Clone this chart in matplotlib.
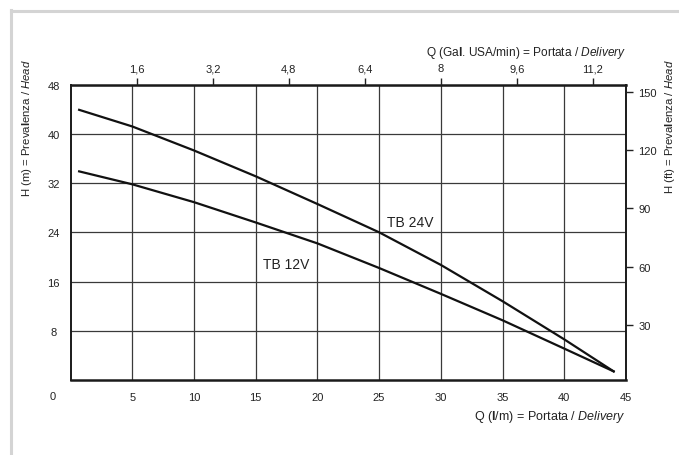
import matplotlib
matplotlib.use("Agg")
import matplotlib.pyplot as plt
from matplotlib.lines import Line2D

plt.rcParams['font.family'] = ['Liberation Sans', 'DejaVu Sans']
plt.rcParams['mathtext.fontset'] = 'custom'
plt.rcParams['mathtext.rm'] = 'Liberation Sans'
plt.rcParams['mathtext.it'] = 'Liberation Sans:italic'
plt.rcParams['mathtext.bf'] = 'Liberation Sans:bold'

# Data
q_lpm = [0.7, 5, 10, 15, 20, 25, 30, 35, 40, 44]
h_24v = [43.9, 41.2, 37.3, 33.1, 28.6, 24.0, 18.7, 12.8, 6.6, 1.4]
h_12v = [33.9, 31.8, 28.9, 25.6, 22.2, 18.2, 14.0, 9.7, 5.1, 1.4]

x_ticks = [5, 10, 15, 20, 25, 30, 35, 40, 45]
y_ticks = [8, 16, 24, 32, 40, 48]
gal_ticks = [1.6, 3.2, 4.8, 6.4, 8, 9.6, 11.2]
gal_labels = ["1,6", "3,2", "4,8", "6,4", "8", "9,6", "11,2"]
ft_ticks = [30, 60, 90, 120, 150]

W, H = 679, 456
fig = plt.figure(figsize=(W / 100, H / 100), dpi=100)
fig.patch.set_facecolor("white")

# light grey frame around the figure
fig.add_artist(Line2D([10.5 / W, 10.5 / W], [0, 1 - 10.5 / H], color="#d4d4d4", lw=2.2))
fig.add_artist(Line2D([10.5 / W, 1], [1 - 11.5 / H, 1 - 11.5 / H], color="#d4d4d4", lw=2.2))

left, right, top, bottom = 70.5, 626, 85.6, 381
ax = fig.add_axes([left / W, 1 - bottom / H, (right - left) / W, (bottom - top) / H])

txt = "#222222"
grid_c = "#3a3a3a"

ax.plot(q_lpm, h_24v, color="#111111", lw=1.6, zorder=3)
ax.plot(q_lpm, h_12v, color="#111111", lw=1.6, zorder=3)
ax.set_xlim(0, 45)
ax.set_ylim(0, 48)
ax.set_xticks(x_ticks)
ax.set_yticks(y_ticks)
ax.grid(True, color=grid_c, lw=0.9)
ax.tick_params(axis="both", length=0, labelsize=8, labelcolor=txt)
ax.tick_params(axis="x", pad=9)
ax.tick_params(axis="y", pad=12)
for lab in ax.get_yticklabels():
    lab.set_horizontalalignment("center")

ax.text(25.6, 25.75, "TB 24V", fontsize=10, color=txt, va="center", ha="left")
ax.text(15.6, 18.85, "TB 12V", fontsize=10, color=txt, va="center", ha="left")

# top axis: US gallons per minute
ax_top = ax.twiny()
ax_top.set_xlim(0.2, 11.9)
ax_top.set_xticks(gal_ticks)
ax_top.set_xticklabels(gal_labels)
ax_top.tick_params(axis="x", direction="out", length=5, width=1, pad=3, labelsize=8,
                   labelcolor=txt, color="#222222")

# right axis: feet
ax_right = ax.twinx()
ax_right.set_ylim(1.45, 153.96)
ax_right.set_yticks(ft_ticks)
ax_right.tick_params(axis="y", direction="out", length=5, width=1, pad=4, labelsize=8,
                     labelcolor=txt, color="#222222")

for a in (ax_top, ax_right):
    for s in a.spines.values():
        s.set_visible(False)
for side, s in ax.spines.items():
    s.set_color("#1a1a1a")
    s.set_linewidth(1.8 if side in ("top", "bottom") else 1.4)
    s.set_zorder(4)

fig.text(52.7 / W, 1 - 397.5 / H, "0", fontsize=8, color=txt, ha="center", va="center")

fig.text(626 / W, 1 - 417 / H, r"Q ($\mathbf{l}$/m) = Portata / $\mathit{Delivery}$",
         fontsize=9, color=txt, ha="right", va="center")
fig.text(626 / W, 1 - 53 / H, r"Q (Ga$\mathbf{l}$. USA/min) = Portata / $\mathit{Delivery}$",
         fontsize=8.6, color=txt, ha="right", va="center")
fig.text(27.5 / W, 1 - 59 / H, r"H (m) = Preva$\mathbf{l}$enza / $\mathit{Head}$",
         fontsize=8.2, color=txt, ha="center", va="top", rotation=90)
fig.text(670 / W, 1 - 59 / H, r"H (ft) = Preva$\mathbf{l}$enza / $\mathit{Head}$",
         fontsize=8.2, color=txt, ha="center", va="top", rotation=90)

fig.savefig("out.png", dpi=100)
